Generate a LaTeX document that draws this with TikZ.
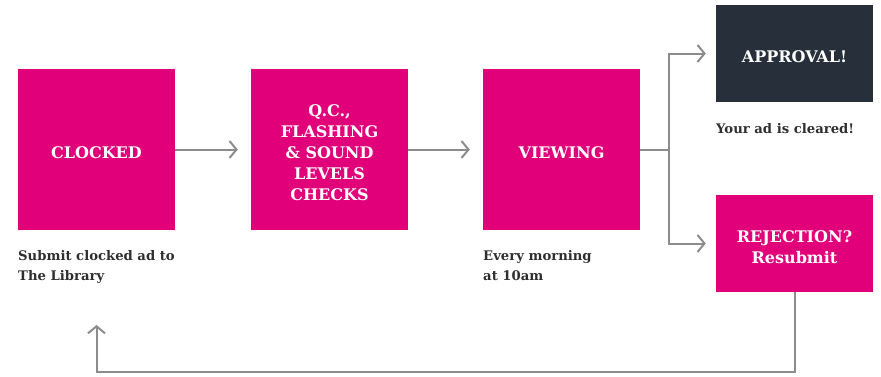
\documentclass[tikz,border=0pt]{standalone}
\usepackage{fontspec}
\setmainfont{DejaVu Serif}
\usetikzlibrary{arrows.meta}
\definecolor{brandpink}{HTML}{E2007A}
\definecolor{slate}{HTML}{27303A}
\definecolor{flowgray}{HTML}{8C8C8C}
\definecolor{captiongray}{HTML}{2E2E2E}
\tikzset{
  x=1pt, y=-1pt,
  stagebox/.style={fill=brandpink, inner sep=0pt,
    minimum width=157pt, minimum height=161pt},
  outcomebox/.style={stagebox, minimum height=97pt},
  boxtext/.style={text=white, inner sep=0pt, align=center, yshift=-3.5pt,
    font=\bfseries\fontsize{16}{21}\selectfont},
  caption/.style={anchor=north west, inner sep=0pt, align=left, text=captiongray,
    font=\bfseries\fontsize{13.2}{20}\selectfont},
  flow/.style={draw=flowgray, line width=2pt},
  flowarrow/.style={flow, -{Straight Barb[length=7pt,width=17pt]}},
}
\begin{document}
\begin{tikzpicture}
\useasboundingbox (0,0) rectangle (881,376);

% process stages
\node[stagebox] (clk) at (96.5,149.5) {};
\node[stagebox] (qc) at (329.5,149.5) {};
\node[stagebox] (view) at (561.5,149.5) {};
\node[outcomebox, fill=slate] (appr) at (794.5,53.5) {};
\node[outcomebox] (rej) at (794.5,243.5) {};

% stage labels
\node[boxtext] (clktext) at (clk) {CLOCKED};
\node[boxtext] (qctext) at (qc) {Q.C.,\\FLASHING\\\& SOUND\\LEVELS\\CHECKS};
\node[boxtext] (viewtext) at (view) {VIEWING};
\node[boxtext] (apprtext) at (appr) {APPROVAL!};
\node[boxtext] (rejtext) at (rej) {REJECTION?\\Resubmit};

% captions under the stages
\node[caption] (capclk) at (18,250) {Submit clocked ad to\\The Library};
\node[caption] (capview) at (483,250) {Every morning\\at 10am};
\node[caption] (capappr) at (716,123) {Your ad is cleared!};

% main flow
\draw[flowarrow, shorten >=13pt] (clk.east) -- (qc.west);
\draw[flowarrow, shorten >=13pt] (qc.east) -- (view.west);

% branch to the two outcomes
\coordinate (split) at (669,149.5);
\draw[flow] (view.east) -- (split);
\draw[flowarrow, shorten >=10pt] (split) |- (appr.west);
\draw[flowarrow, shorten >=10pt] (split) |- (rej.west);

% resubmission loop back to the start
\coordinate (loopcorner) at (96.5,372);
\coordinate (loopend) at (96.5,325);
\draw[flowarrow] (rej.south) |- (loopcorner) -- (loopend);
\end{tikzpicture}
\end{document}
